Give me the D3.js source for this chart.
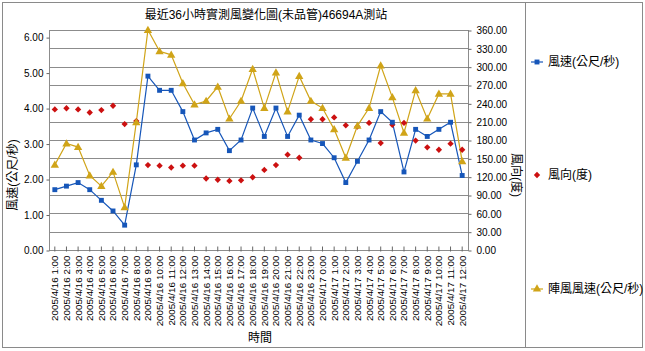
<!DOCTYPE html>
<html>
<head>
<meta charset="utf-8">
<script src="https://cdn.jsdelivr.net/npm/d3@7"></script>
<style>
  html, body { margin: 0; padding: 0; background: #fff; }
  svg { display: block; }
  text { font-family: "Liberation Sans", Arial, "Noto Sans CJK TC", sans-serif; fill: #000; }
  .cjk { font-family: "Liberation Sans", "Noto Sans CJK TC", sans-serif; }
</style>
</head>
<body>
<svg id="chart" width="645" height="351"></svg>
<script>
// hourly categories, 36 hours
const hours = [
  '2005/4/16 1:00', '2005/4/16 2:00', '2005/4/16 3:00', '2005/4/16 4:00', '2005/4/16 5:00', '2005/4/16 6:00',
  '2005/4/16 7:00', '2005/4/16 8:00', '2005/4/16 9:00', '2005/4/16 10:00', '2005/4/16 11:00', '2005/4/16 12:00',
  '2005/4/16 13:00', '2005/4/16 14:00', '2005/4/16 15:00', '2005/4/16 16:00', '2005/4/16 17:00', '2005/4/16 18:00',
  '2005/4/16 19:00', '2005/4/16 20:00', '2005/4/16 21:00', '2005/4/16 22:00', '2005/4/16 23:00', '2005/4/17 0:00',
  '2005/4/17 1:00', '2005/4/17 2:00', '2005/4/17 3:00', '2005/4/17 4:00', '2005/4/17 5:00', '2005/4/17 6:00',
  '2005/4/17 7:00', '2005/4/17 8:00', '2005/4/17 9:00', '2005/4/17 10:00', '2005/4/17 11:00', '2005/4/17 12:00'
];
// 風速 (m/s)
const speed = [1.7, 1.8, 1.9, 1.7, 1.4, 1.1, 0.7, 2.4, 4.9, 4.5, 4.5, 3.9, 3.1, 3.3, 3.4, 2.8, 3.1, 4.0,
               3.2, 4.0, 3.2, 3.8, 3.1, 3.0, 2.6, 1.9, 2.5, 3.1, 3.9, 3.6, 2.2, 3.4, 3.2, 3.4, 3.6, 2.1];
// 風向 (deg)
const direction = [230, 232, 230, 225, 229, 236, 206, 211, 139, 138, 135, 138, 138, 117, 115, 113, 114, 119,
                   131, 139, 156, 151, 214, 214, 217, 204, 202, 208, 175, 205, 208, 179, 168, 164, 174, 164];
// 陣風風速 (m/s)
const gust = [2.4, 3.0, 2.9, 2.1, 1.8, 2.2, 1.2, 3.6, 6.2, 5.6, 5.5, 4.7, 4.1, 4.2, 4.6, 3.7, 4.2, 5.1,
              4.0, 5.0, 3.9, 4.9, 4.2, 4.0, 3.4, 2.6, 3.5, 4.0, 5.2, 4.3, 3.3, 4.5, 3.7, 4.4, 4.4, 2.5];

const leftTicks = [0, 1, 2, 3, 4, 5, 6];
const rightTicks = [0, 30, 60, 90, 120, 150, 180, 210, 240, 270, 300, 330, 360];

const C_SPEED = '#1656b9', C_DIR = '#cc1010', C_GUST = '#d0a418', GRID = '#8c8c8c';

const svg = d3.select('#chart');
const P = { l: 49, r: 468, t: 30, b: 250 };

const x = d3.scaleBand().domain(hours).range([P.l, P.r]);
const cx = d => x(d) + x.bandwidth() / 2;
const yL = d3.scaleLinear().domain([0, 6.2]).range([P.b, P.t]);
const yR = d3.scaleLinear().domain([0, 360]).range([P.b, P.t]);

// outer frame + legend box
svg.append('rect').attr('x', 2.5).attr('y', 2.5).attr('width', 640).attr('height', 345)
  .attr('fill', '#fff').attr('stroke', '#8a8a8a');
svg.append('line').attr('x1', 525.5).attr('x2', 525.5).attr('y1', 2.5).attr('y2', 347.5)
  .attr('stroke', '#8a8a8a');

// gridlines follow the right axis
svg.append('g').selectAll('line').data(rightTicks).join('line')
  .attr('x1', P.l).attr('x2', P.r)
  .attr('y1', d => Math.round(yR(d)) + 0.5).attr('y2', d => Math.round(yR(d)) + 0.5)
  .attr('stroke', GRID);
svg.append('rect').attr('x', P.l + 0.5).attr('y', P.t + 0.5)
  .attr('width', P.r - P.l).attr('height', P.b - P.t)
  .attr('fill', 'none').attr('stroke', GRID);

// left axis
const gl = svg.append('g').attr('transform', `translate(${P.l + 0.5},0.5)`)
  .call(d3.axisLeft(yL).tickValues(leftTicks).tickFormat(d3.format('.2f')).tickSize(3).tickPadding(3));
// right axis
const gr = svg.append('g').attr('transform', `translate(${P.r + 0.5},0.5)`)
  .call(d3.axisRight(yR).tickValues(rightTicks).tickFormat(d3.format('.2f')).tickSize(3).tickPadding(5));
// bottom axis
const gb = svg.append('g').attr('transform', `translate(0,${P.b + 0.5})`)
  .call(d3.axisBottom(x).tickSize(-4).tickPadding(0));
[gl, gr, gb].forEach(g => {
  g.select('.domain').remove();
  g.selectAll('line').attr('stroke', '#666');
  g.selectAll('text').attr('font-size', 10).attr('font-family', '"Liberation Sans", Arial, sans-serif');
});
gb.selectAll('line').attr('y1', 1);
gb.selectAll('text')
  .attr('transform', 'rotate(-90)')
  .attr('text-anchor', 'end')
  .attr('x', -5).attr('y', 0).attr('dy', '0.35em')
  .attr('font-size', 9.8);

// series lines
const lineL = vals => d3.line().x((d, i) => cx(hours[i])).y(d => yL(d))(vals);
svg.append('path').attr('d', lineL(gust)).attr('fill', 'none').attr('stroke', C_GUST).attr('stroke-width', 1.2);
svg.append('path').attr('d', lineL(speed)).attr('fill', 'none').attr('stroke', C_SPEED).attr('stroke-width', 1.2);

// markers
const tri = d3.symbol().type(d3.symbolTriangle).size(30)();
const sq = d3.symbol().type(d3.symbolSquare).size(24)();
const dia = d3.symbol().type(d3.symbolSquare).size(20)(); // rotated 45deg below

svg.append('g').selectAll('path').data(direction).join('path')
  .attr('d', dia).attr('fill', C_DIR)
  .attr('transform', (d, i) => `translate(${cx(hours[i])},${yR(d)}) rotate(45)`);
svg.append('g').selectAll('path').data(speed).join('path')
  .attr('d', sq).attr('fill', C_SPEED)
  .attr('transform', (d, i) => `translate(${cx(hours[i])},${yL(d)})`);
svg.append('g').selectAll('path').data(gust).join('path')
  .attr('d', tri).attr('fill', C_GUST)
  .attr('transform', (d, i) => `translate(${cx(hours[i])},${yL(d) + 0.5})`);

// titles
svg.append('text').attr('class', 'cjk').attr('x', 266).attr('y', 19).attr('text-anchor', 'middle')
  .attr('font-size', 12).text('最近36小時實測風變化圖(未品管)46694A測站');
svg.append('text').attr('class', 'cjk').attr('transform', 'translate(17,175) rotate(-90)')
  .attr('text-anchor', 'middle').attr('font-size', 12).text('風速(公尺/秒)');
svg.append('text').attr('class', 'cjk').attr('transform', 'translate(512,175) rotate(90)')
  .attr('text-anchor', 'middle').attr('font-size', 12).text('風向(度)');
svg.append('text').attr('class', 'cjk').attr('x', 260).attr('y', 342).attr('text-anchor', 'middle')
  .attr('font-size', 12).text('時間');

// legend
const legend = [
  { name: '風速(公尺/秒)', color: C_SPEED, sym: sq, rot: 0, line: true, y: 62 },
  { name: '風向(度)', color: C_DIR, sym: dia, rot: 45, line: false, y: 175 },
  { name: '陣風風速(公尺/秒)', color: C_GUST, sym: tri, rot: 0, line: true, y: 289 }
];
const lg = svg.append('g').selectAll('g').data(legend).join('g')
  .attr('transform', d => `translate(537,${d.y})`);
lg.filter(d => d.line).append('line').attr('x1', -6).attr('x2', 6)
  .attr('stroke', d => d.color).attr('stroke-width', 1.2);
lg.append('path').attr('d', d => d.sym).attr('fill', d => d.color)
  .attr('transform', d => `rotate(${d.rot})`);
lg.append('text').attr('class', 'cjk').attr('x', 11).attr('dy', '0.35em')
  .attr('font-size', 12).text(d => d.name);
</script>
</body>
</html>
